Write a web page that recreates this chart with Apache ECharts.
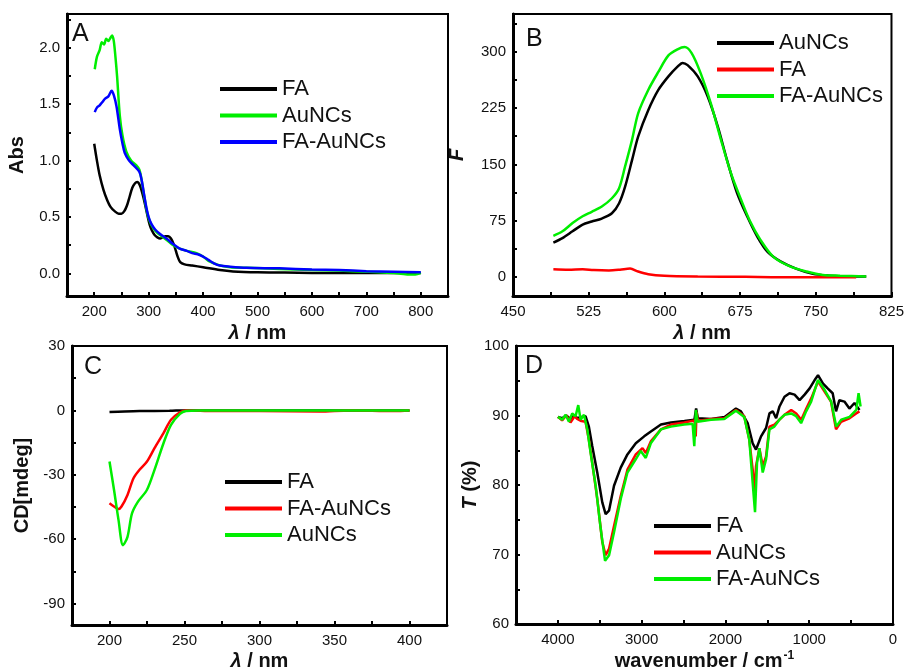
<!DOCTYPE html>
<html>
<head>
<meta charset="utf-8">
<script src="https://cdn.jsdelivr.net/npm/echarts@6/dist/echarts.min.js"></script>
<style>
  html, body { margin: 0; padding: 0; background: #fff; }
  #chart { width: 907px; height: 672px; }
</style>
</head>
<body>
<div id="chart"></div>
<script>
// panel A: UV-vis absorbance
const aFA = [[200,1.15],[205,1.0],[210,0.87],[217,0.74],[223,0.66],[230,0.59],[238,0.55],[245,0.53],[250,0.53],[255,0.55],[260,0.6],[265,0.68],[270,0.76],[275,0.8],[279,0.81],[284,0.78],[289,0.7],[293,0.62],[298,0.51],[302,0.43],[306,0.38],[311,0.34],[316,0.32],[321,0.31],[326,0.32],[331,0.33],[336,0.33],[341,0.31],[346,0.26],[350,0.2],[354,0.14],[358,0.1],[366,0.08],[380,0.07],[400,0.055],[431,0.03],[455,0.018],[500,0.01],[550,0.008],[600,0.005],[700,0.004],[800,0.003]];
const aAuNCs = [[201,1.81],[205,1.92],[210,1.98],[214,2.05],[218,2.03],[222,2.08],[226,2.06],[230,2.09],[233,2.11],[236,2.06],[239,1.92],[242,1.75],[247,1.4],[252,1.22],[259,1.08],[268,1.0],[277,0.96],[283,0.92],[287,0.83],[292,0.68],[296,0.57],[300,0.49],[305,0.43],[312,0.38],[321,0.34],[335,0.29],[345,0.25],[357,0.22],[370,0.2],[388,0.18],[400,0.15],[410,0.11],[420,0.09],[431,0.07],[450,0.055],[480,0.05],[540,0.04],[600,0.03],[650,0.025],[700,0.015],[760,0.0],[780,-0.01],[790,-0.01],[800,0.005]];
const aFAAuNCs = [[201,1.43],[205,1.47],[210,1.49],[215,1.52],[220,1.55],[226,1.57],[232,1.62],[236,1.58],[241,1.48],[247,1.28],[252,1.15],[256,1.07],[264,1.0],[272,0.96],[283,0.9],[287,0.83],[292,0.69],[296,0.58],[300,0.5],[305,0.44],[312,0.39],[321,0.35],[335,0.3],[345,0.26],[357,0.22],[370,0.2],[380,0.18],[390,0.17],[400,0.15],[410,0.12],[420,0.09],[431,0.07],[450,0.06],[480,0.05],[540,0.045],[600,0.035],[650,0.03],[700,0.02],[750,0.015],[800,0.01]];

// panel B: fluorescence
const bAuNCs = [[490,46],[499,52],[509,61],[519,70],[528,74],[538,78],[548,85],[555,98],[561,120],[568,156],[574,187],[584,222],[594,249],[604,267],[613,280],[618,285],[623,282],[633,267],[643,240],[653,200],[662,156],[672,112],[682,81],[692,54],[702,34],[715,21],[731,11],[747,4.4],[764,2],[780,1],[800,1]];
const bFA = [[490,10.6],[505,10],[519,10.6],[530,9.5],[545,9],[556,10],[566,11.5],[574,7.5],[584,4],[600,2],[633,1],[680,0.5],[715,0],[790,0]];
const bFAAuNCs = [[490,55],[499,61],[509,72],[519,81],[528,87],[538,94],[548,105],[555,118],[561,147],[568,183],[574,218],[584,249],[594,273],[604,295],[613,303],[620,306],[627,298],[636,271],[646,231],[656,183],[666,138],[676,103],[685,74],[695,50],[708,27],[725,14],[741,7.5],[757,3],[774,2],[800,1]];

// panel C: circular dichroism
const cFA = [[200,-0.8],[210,-0.5],[220,-0.3],[240,-0.2],[250,0],[300,0],[350,0],[400,0]];
const cFAAuNCs = [[200,-43.3],[203,-44.8],[206,-46],[208,-44.8],[212,-39.4],[216,-31.6],[220,-27.7],[225,-23.8],[230,-17.6],[236,-10.6],[241,-4.4],[247,-0.9],[251,0],[270,-0.3],[300,-0.3],[340,-0.5],[360,0],[390,-0.3],[400,0]];
const cAuNCs = [[200,-23.8],[203,-37],[206,-51],[209,-62.8],[212,-58.9],[215,-48],[219,-42.5],[225,-37],[230,-27.7],[236,-15.3],[241,-6.7],[247,-1.6],[251,-0.3],[260,0],[300,0],[350,0],[400,0]];

// panel D: FTIR transmittance
const dFA = [[4000,89.8],[3950,89.6],[3900,90.0],[3850,89.5],[3800,90.1],[3770,89.6],[3720,89.8],[3670,89.9],[3630,88.4],[3590,85.6],[3530,81.8],[3470,77.5],[3430,75.8],[3390,76.3],[3330,79.9],[3250,82.5],[3170,84.4],[3070,86.0],[2970,87.0],[2890,87.7],[2770,88.7],[2650,89.0],[2490,89.2],[2370,89.4],[2350,91.0],[2330,89.6],[2170,89.5],[2010,89.8],[1875,91.0],[1815,90.6],[1735,88.9],[1675,86.0],[1635,85.1],[1575,87.0],[1515,88.2],[1475,90.3],[1435,90.6],[1395,89.6],[1355,91.3],[1295,92.7],[1235,93.2],[1175,93.0],[1115,92.2],[1055,93.0],[995,93.9],[935,95.1],[895,95.8],[835,94.6],[780,93.9],[720,93.2],[680,90.6],[640,92.2],[580,92.0],[520,91.0],[460,91.8],[400,90.8]];
const dAuNCs = [[4000,89.8],[3950,89.3],[3900,90.0],[3850,89.0],[3800,89.9],[3770,89.5],[3720,89.2],[3670,89.1],[3630,86.5],[3590,83.2],[3530,78.0],[3470,71.8],[3430,69.9],[3390,70.8],[3330,74.1],[3250,78.4],[3170,82.2],[3070,84.4],[2990,85.3],[2950,84.6],[2890,86.3],[2770,88.0],[2650,88.7],[2490,89.0],[2370,89.3],[2355,87.0],[2345,90.5],[2330,89.2],[2170,89.5],[2010,89.6],[1875,90.8],[1775,89.9],[1715,86.5],[1675,82.2],[1655,78.9],[1635,82.7],[1595,85.3],[1555,82.7],[1515,84.1],[1475,88.4],[1415,88.7],[1355,89.4],[1295,90.1],[1215,90.8],[1155,90.3],[1095,89.4],[1035,91.0],[975,92.5],[895,94.9],[815,93.4],[740,92.0],[680,88.0],[620,89.1],[520,89.6],[440,90.3],[400,90.6]];
const dFAAuNCs = [[4000,89.8],[3948,89.4],[3908,90.1],[3868,89.1],[3829,90.3],[3789,89.9],[3757,91.5],[3729,89.4],[3689,90.1],[3649,88.0],[3609,84.6],[3549,79.9],[3489,73.7],[3437,69.1],[3389,69.9],[3330,73.2],[3250,78.0],[3170,81.8],[3071,83.7],[3011,84.9],[2951,83.9],[2891,86.0],[2771,88.0],[2652,88.4],[2492,88.7],[2392,88.8],[2372,85.6],[2353,90.8],[2333,89.1],[2173,89.4],[2014,89.5],[1874,90.7],[1775,89.8],[1715,86.5],[1675,80.3],[1647,76.1],[1623,83.2],[1595,85.3],[1555,81.8],[1515,83.7],[1475,88.0],[1416,88.4],[1356,89.4],[1296,90.1],[1216,90.3],[1156,89.9],[1097,88.9],[1037,90.6],[977,92.0],[897,95.1],[817,93.7],[738,92.0],[678,88.4],[618,89.4],[518,89.8],[438,90.8],[411,93.2],[387,91.3]];

// tick values (labelled majors, unlabelled minors)
const aXMajor = [200,300,400,500,600,700,800];
const aXMinor = [250,350,450,550,650,750];
const aYMajor = [0,0.5,1.0,1.5,2.0];
const aYMinor = [0.25,0.75,1.25,1.75,2.25];
const bXMajor = [450,525,600,675,750,825];
const bXMinor = [487.5,562.5,637.5,712.5,787.5];
const bYMajor = [0,75,150,225,300];
const bYMinor = [37.5,112.5,187.5,262.5,337.5];
const cXMajor = [200,250,300,350,400];
const cXMinor = [225,275,325,375];
const cYMajor = [-90,-60,-30,0,30];
const cYMinor = [-75,-45,-15,15];
const dXMajor = [0,1000,2000,3000,4000];
const dXMinor = [500,1500,2500,3500];
const dYMajor = [60,70,80,90,100];
const dYMinor = [65,75,85,95];

const FONT = '"Liberation Sans", Arial, sans-serif';
const INK = '#111';

const chart = echarts.init(document.getElementById('chart'));

const nameStyle = {
  fontFamily: FONT, fontSize: 20, fontWeight: 'bold', color: INK,
  rich: {
    i: { fontFamily: FONT, fontSize: 20, fontWeight: 'bold', fontStyle: 'italic', color: INK },
    sup: { fontFamily: FONT, fontSize: 12, fontWeight: 'bold', color: INK, verticalAlign: 'top', padding: [0, 0, 10, 1] }
  }
};

const grids = [
  { left: 67, top: 14, width: 381, height: 282 },
  { left: 513, top: 14, width: 383, height: 282 },
  { left: 72, top: 346, width: 375, height: 280 },
  { left: 516, top: 346, width: 377, height: 280 }
].map(g => Object.assign(g, { show: true, borderColor: '#000', borderWidth: 2, containLabel: false }));

function axis(gridIndex, o) {
  return {
    gridIndex, type: 'value', min: o.min, max: o.max, inverse: !!o.inverse,
    splitLine: { show: false },
    name: o.name, nameLocation: 'middle', nameGap: o.nameGap, nameTextStyle: nameStyle,
    axisLine: { show: true, onZero: false, lineStyle: { color: '#000', width: 3 } },
    axisTick: {
      show: true, inside: true, length: 4, lineStyle: { color: '#000', width: 2 },
      customValues: o.major.concat(o.minor)
    },
    axisLabel: {
      show: true, margin: o.margin, customValues: o.major, formatter: o.fmt || (v => String(v)),
      color: INK, fontFamily: FONT, fontSize: 15, showMinLabel: true, showMaxLabel: true
    }
  };
}

const lambda = '{i|λ} / nm';
const xAxis = [
  axis(0, { min: 150, max: 850, major: aXMajor, minor: aXMinor, name: lambda, nameGap: 27, margin: 8 }),
  axis(1, { min: 450, max: 825, major: bXMajor, minor: bXMinor, name: lambda, nameGap: 27, margin: 8 }),
  axis(2, { min: 175, max: 425, major: cXMajor, minor: cXMinor, name: lambda, nameGap: 26, margin: 8 }),
  axis(3, { min: 0, max: 4500, inverse: true, major: dXMajor, minor: dXMinor, name: 'wavenumber / cm{sup|-1}', nameGap: 26, margin: 8 })
];
const yAxis = [
  axis(0, { min: -0.2, max: 2.3, major: aYMajor, minor: aYMinor, name: 'Abs', nameGap: 40, margin: 7, fmt: v => v.toFixed(1) }),
  axis(1, { min: -25, max: 350, major: bYMajor, minor: bYMinor, name: '{i|F}', nameGap: 46, margin: 7 }),
  axis(2, { min: -100, max: 30, major: cYMajor, minor: cYMinor, name: 'CD[mdeg]', nameGap: 40, margin: 7 }),
  axis(3, { min: 60, max: 100, major: dYMajor, minor: dYMinor, name: '{i|T} (%)', nameGap: 34, margin: 7 })
];

function line(name, panel, data, color, smooth) {
  return {
    name, type: 'line', xAxisIndex: panel, yAxisIndex: panel, data,
    showSymbol: false, symbol: 'none', smooth: smooth, clip: true,
    itemStyle: { color }, lineStyle: { color, width: 2.5 }
  };
}

const series = [
  line('a_FA', 0, aFA, '#000000', 0.3),
  line('a_AuNCs', 0, aAuNCs, '#00ee00', 0.3),
  line('a_FA-AuNCs', 0, aFAAuNCs, '#0000ff', 0.3),
  line('b_AuNCs', 1, bAuNCs, '#000000', 0.3),
  line('b_FA', 1, bFA, '#ff0000', 0.3),
  line('b_FA-AuNCs', 1, bFAAuNCs, '#00ee00', 0.3),
  line('c_FA', 2, cFA, '#000000', 0.3),
  line('c_FA-AuNCs', 2, cFAAuNCs, '#ff0000', 0.3),
  line('c_AuNCs', 2, cAuNCs, '#00ee00', 0.3),
  line('d_FA', 3, dFA, '#000000', false),
  line('d_AuNCs', 3, dAuNCs, '#ff0000', false),
  line('d_FA-AuNCs', 3, dFAAuNCs, '#00ee00', false)
];

function legendAt(left, top, names) {
  return {
    data: names, left, top, orient: 'vertical', icon: 'rect',
    itemWidth: 57, itemHeight: 4, itemGap: 4.5, padding: 0,
    selectedMode: false,
    formatter: n => n.slice(2),
    textStyle: { fontFamily: FONT, fontSize: 22, color: INK, lineHeight: 22 }
  };
}

const legend = [
  legendAt(220, 78, ['a_FA', 'a_AuNCs', 'a_FA-AuNCs']),
  legendAt(717, 32, ['b_AuNCs', 'b_FA', 'b_FA-AuNCs']),
  legendAt(225, 471, ['c_FA', 'c_FA-AuNCs', 'c_AuNCs']),
  legendAt(654, 515, ['d_FA', 'd_AuNCs', 'd_FA-AuNCs'])
];

const letter = (text, x, y) => ({
  type: 'text', left: x, top: y,
  style: { text, fontFamily: FONT, fontSize: 25, fill: INK }
});

chart.setOption({
  animation: false,
  backgroundColor: '#fff',
  grid: grids,
  xAxis,
  yAxis,
  legend,
  series,
  graphic: [
    letter('A', 72, 22),
    letter('B', 526, 27),
    letter('C', 84, 355),
    letter('D', 525, 354)
  ]
});
</script>
</body>
</html>
